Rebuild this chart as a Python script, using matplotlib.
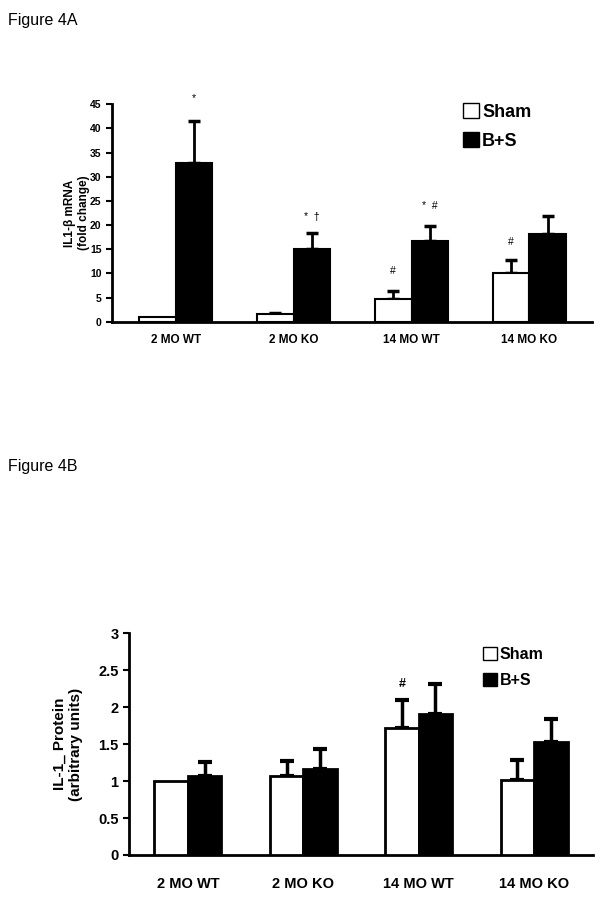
import numpy as np
import matplotlib.pyplot as plt
from matplotlib.patches import Patch

plt.rcParams['font.family'] = ['Liberation Sans', 'DejaVu Sans']

groups = ["2 MO WT", "2 MO KO", "14 MO WT", "14 MO KO"]

# Figure 4A - IL1-beta mRNA (fold change)
a_sham = [1.0, 1.5, 4.8, 10.0]
a_sham_err = [0.0, 0.3, 1.6, 2.8]
a_bs = [32.8, 15.0, 16.8, 18.1]
a_bs_err = [8.7, 3.3, 3.0, 3.8]
a_yticks = [0, 5, 10, 15, 20, 25, 30, 35, 40, 45]

# Figure 4B - IL-1 protein (arbitrary units)
b_sham = [1.0, 1.07, 1.72, 1.02]
b_sham_err = [0.0, 0.2, 0.38, 0.26]
b_bs = [1.07, 1.17, 1.91, 1.53]
b_bs_err = [0.19, 0.26, 0.40, 0.31]
b_yticks = [0, 0.5, 1, 1.5, 2, 2.5, 3]

W, H = 604, 900
fig = plt.figure(figsize=(W / 100, H / 100), dpi=100)


def px_axes(left, top, right, bottom):
    return fig.add_axes([left / W, 1 - bottom / H, (right - left) / W, (bottom - top) / H])


def err_bars(ax, xs, vals, errs, lw, cap):
    xs, vals, errs = np.asarray(xs), np.asarray(vals), np.asarray(errs)
    keep = errs > 0  # no bar drawn where there is no visible error
    ax.errorbar(xs[keep], vals[keep], yerr=[np.zeros(keep.sum()), errs[keep]], fmt="none",
                ecolor="black", elinewidth=lw + 0.5, capsize=cap, capthick=lw + 1, zorder=2)


def draw_panel(ax, sham, sham_err, bs, bs_err, width, lw, cap):
    x = np.arange(len(groups))
    ax.bar(x - width / 2, sham, width, color="white", edgecolor="black", linewidth=lw, zorder=3)
    ax.bar(x + width / 2, bs, width, color="black", edgecolor="black", linewidth=lw, zorder=3)
    err_bars(ax, x - width / 2, sham, sham_err, lw, cap)
    err_bars(ax, x + width / 2, bs, bs_err, lw, cap)
    for s in ["top", "right"]:
        ax.spines[s].set_visible(False)
    for s in ["left", "bottom"]:
        ax.spines[s].set_linewidth(2)
    ax.set_xticks(x)
    ax.tick_params(axis="x", length=0)
    ax.tick_params(axis="y", direction="out", length=4, width=1.5)
    return x


fig.text(8 / W, 1 - 20 / H, "Figure 4A", fontsize=11.5, va="center", ha="left")
fig.text(8 / W, 1 - 467 / H, "Figure 4B", fontsize=11.5, va="center", ha="left")

# panel A
axA = px_axes(112, 104.3, 592, 321.7)
wA = 0.31
x = draw_panel(axA, a_sham, a_sham_err, a_bs, a_bs_err, wA, 1.5, 4.5)
axA.set_xlim(-0.54, 3.53)
axA.set_ylim(0, 45)
axA.set_yticks(a_yticks)
axA.set_yticklabels([str(t) for t in a_yticks], fontsize=7.5, fontweight="bold")
axA.set_xticklabels(groups, fontsize=8.5, fontweight="bold")
axA.tick_params(axis="x", pad=9)
axA.set_ylabel("IL1-β mRNA\n(fold change)", fontsize=8.5, fontweight="bold", labelpad=0)

ann = dict(ha="center", va="center", fontsize=7.5, clip_on=False)
axA.text(x[0] + wA / 2, 46.3, "*", **ann)
axA.text(x[1] + wA / 2, 21.7, "*  †", **ann)
axA.text(x[2] + wA / 2, 24.0, "*  #", **ann)
axA.text(x[2] - wA / 2, 10.5, "#", **ann)
axA.text(x[3] - wA / 2, 16.6, "#", **ann)

handles = [Patch(facecolor="white", edgecolor="black", linewidth=1, label="Sham"),
           Patch(facecolor="black", edgecolor="black", label="B+S")]
axA.legend(handles=handles, loc="upper left", bbox_to_anchor=(454 / W, 1 - 94 / H),
           bbox_transform=fig.transFigure, frameon=False, borderpad=0,
           handlelength=0.9, handleheight=0.9, handletextpad=0.15, labelspacing=0.65,
           prop={"size": 13, "weight": "bold"})

# panel B
axB = px_axes(129, 633.3, 593, 855)
wB = 0.29
x = draw_panel(axB, b_sham, b_sham_err, b_bs, b_bs_err, wB, 2, 5)
axB.set_xlim(-0.51, 3.51)
axB.set_ylim(0, 3)
axB.set_yticks(b_yticks)
axB.set_yticklabels([f"{t:g}" for t in b_yticks], fontsize=10.5, fontweight="bold")
axB.set_xticklabels(groups, fontsize=10.5, fontweight="bold")
axB.tick_params(axis="x", pad=16)
axB.set_ylabel("IL-1_ Protein\n(arbitrary units)", fontsize=11, fontweight="bold", labelpad=11)
axB.text(x[2] - wB / 2, 2.31, "#", ha="center", va="center", fontsize=9, fontweight="bold")

axB.legend(handles=handles, loc="upper left", bbox_to_anchor=(475 / W, 1 - 639 / H),
           bbox_transform=fig.transFigure, frameon=False, borderpad=0,
           handlelength=0.9, handleheight=0.9, handletextpad=0.15, labelspacing=0.65,
           prop={"size": 11.5, "weight": "bold"})

fig.savefig("out.png", dpi=100)
